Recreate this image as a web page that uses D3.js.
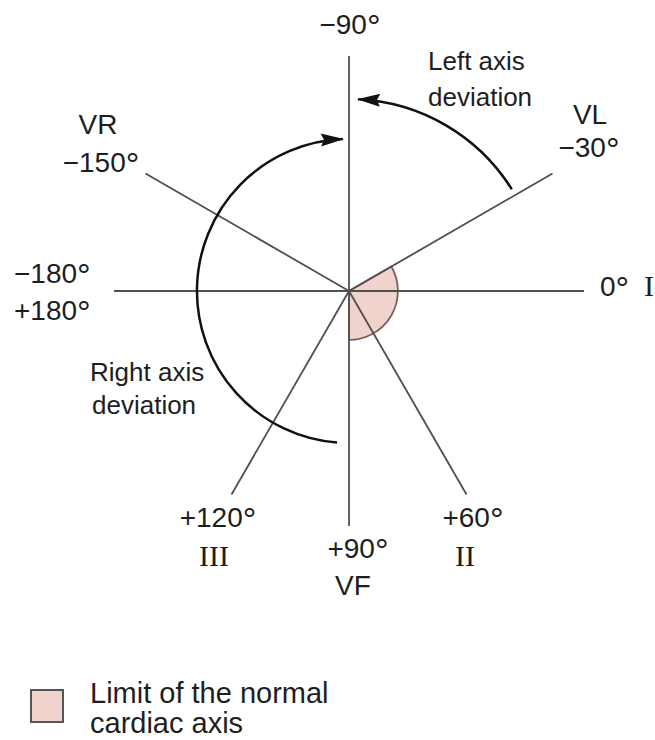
<!DOCTYPE html>
<html>
<head>
<meta charset="utf-8">
<script src="https://cdn.jsdelivr.net/npm/d3@7"></script>
<style>
  html, body { margin: 0; padding: 0; background: #ffffff; }
  svg { display: block; }
</style>
</head>
<body>
<script>
// ---------------- data ----------------
const leadAngles   = [0, -30, -90, -150, 180, 120, 90, 60];          // degrees (screen, clockwise from +x)
const leadDegrees  = ["0°", "−30°", "−90°", "−150°", "−180°", "+120°", "+90°", "+60°"];
const leadNames    = ["I", "VL", "", "VR", "", "III", "VF", "II"];
const extraDegree  = "+180°";
const normalRange  = [-30, 90];                 // normal cardiac axis sector
const leftDeviationArc  = [-32, -87.3];         // arc from VL toward -90
const rightDeviationArc = [94.5, 267.7];        // arc from ~+95 round to ~-92
const deviationLabels = [["Left axis", "deviation"], ["Right axis", "deviation"]];
const legendLabel = ["Limit of the normal", "cardiac axis"];

// ---------------- layout ----------------
const W = 655, H = 740;
const cx = 349, cy = 291;
const sans = "'Liberation Sans', Arial, Helvetica, sans-serif";
const serif = "'Liberation Serif', 'Times New Roman', serif";
const textColor = "#1e1e1e";

const svg = d3.select("body").append("svg")
  .attr("width", W).attr("height", H)
  .attr("viewBox", `0 0 ${W} ${H}`);

svg.append("rect").attr("width", W).attr("height", H).attr("fill", "#fff");

const deg = d3.scaleLinear().domain([0, 360]).range([0, 2 * Math.PI]);
const r = d3.scaleLinear().domain([0, 1]).range([0, 235]);

const g = svg.append("g").attr("transform", `translate(${cx},${cy})`);

// normal sector (d3.arc angles are measured from 12 o'clock clockwise)
const sector = d3.arc()
  .innerRadius(0)
  .outerRadius(r(0.208))
  .startAngle(deg(normalRange[0] + 90))
  .endAngle(deg(normalRange[1] + 90));
g.append("path")
  .attr("d", sector())
  .attr("fill", "#efd3cc")
  .attr("stroke", "#7a605b")
  .attr("stroke-width", 1.8);

// spokes
const spoke = d3.lineRadial().angle(d => deg(d[0] + 90)).radius(d => r(d[1]));
g.selectAll("path.spoke")
  .data(leadAngles)
  .join("path")
  .attr("class", "spoke")
  .attr("d", a => spoke([[a, 0], [a, 1]]))
  .attr("fill", "none")
  .attr("stroke", "#505050")
  .attr("stroke-width", 1.8);

// arrow marker
const defs = svg.append("defs");
defs.append("marker")
  .attr("id", "arrow")
  .attr("markerUnits", "userSpaceOnUse")
  .attr("viewBox", "-24 -8 26 16")
  .attr("markerWidth", 26).attr("markerHeight", 16)
  .attr("refX", 0).attr("refY", 0)
  .attr("orient", "auto")
  .append("path")
  .attr("d", "M1,0L-22,-6.5L-19,0L-22,6.5Z")
  .attr("fill", "#111");

function arcPath(radius, a0, a1) {
  const p = d3.path();
  p.arc(0, 0, radius, deg(a0), deg(a1), a1 < a0);
  return p.toString();
}

g.append("path")
  .attr("d", arcPath(r(0.817), leftDeviationArc[0], leftDeviationArc[1]))
  .attr("fill", "none").attr("stroke", "#111").attr("stroke-width", 2.5)
  .attr("marker-end", "url(#arrow)");

g.append("path")
  .attr("d", arcPath(r(0.647), rightDeviationArc[0], rightDeviationArc[1]))
  .attr("fill", "none").attr("stroke", "#111").attr("stroke-width", 2.5)
  .attr("marker-end", "url(#arrow)");

// ---------------- labels ----------------
function degLabel(sel, txt, x, y, anchor) {
  const t = sel.append("text")
    .attr("x", x).attr("y", y)
    .attr("text-anchor", anchor || "middle")
    .attr("font-family", sans).attr("font-size", 28)
    .attr("fill", textColor);
  const body = txt.replace("°", "");
  t.append("tspan").text(body);
  t.append("tspan").attr("font-size", 34).attr("dy", 4).text("°");
  return t;
}
function nameLabel(txt, x, y, anchor) {
  const roman = /^[I]+$/.test(txt);
  svg.append("text")
    .attr("x", x).attr("y", y)
    .attr("text-anchor", anchor || "middle")
    .attr("font-family", roman ? serif : sans)
    .attr("font-size", roman ? 30 : 28)
    .attr("fill", textColor)
    .text(txt);
}

// placement of each lead's labels (screen coords), keyed by angle
const place = {
  "0":    { deg: [600, 296, "start"], name: [644, 296, "start"] },
  "-30":  { deg: [589, 157, "middle"], name: [590, 124, "middle"] },
  "-90":  { deg: [350, 34, "middle"] },
  "-150": { deg: [101, 172, "middle"], name: [98, 134, "middle"] },
  "180":  { deg: [14, 283, "start"] },
  "120":  { deg: [218, 527, "middle"], name: [214, 566, "middle"] },
  "90":   { deg: [358, 558, "middle"], name: [353, 595, "middle"] },
  "60":   { deg: [473, 527, "middle"], name: [465, 566, "middle"] }
};

leadAngles.forEach((a, i) => {
  const p = place[String(a)];
  degLabel(svg, leadDegrees[i], p.deg[0], p.deg[1], p.deg[2]);
  if (leadNames[i]) nameLabel(leadNames[i], p.name[0], p.name[1], p.name[2]);
});
degLabel(svg, extraDegree, 14, 320, "start");

// deviation labels
const devPos = [[428, 70, 36], [90, 381, 33]];
deviationLabels.forEach((lines, i) => {
  const t = svg.append("text")
    .attr("font-family", sans).attr("font-size", 26)
    .attr("fill", textColor);
  lines.forEach((ln, j) => {
    t.append("tspan")
      .attr("x", devPos[i][0] + (i === 1 && j === 1 ? 2 : 0))
      .attr("y", devPos[i][1] + j * devPos[i][2])
      .text(ln);
  });
});

// legend
svg.append("rect")
  .attr("x", 31).attr("y", 690).attr("width", 32).attr("height", 32)
  .attr("fill", "#efd3cc").attr("stroke", "#555").attr("stroke-width", 2);
const lt = svg.append("text")
  .attr("font-family", sans).attr("font-size", 29).attr("fill", textColor);
legendLabel.forEach((ln, j) => {
  lt.append("tspan").attr("x", 90).attr("y", 703 + j * 30).text(ln);
});
</script>
</body>
</html>
